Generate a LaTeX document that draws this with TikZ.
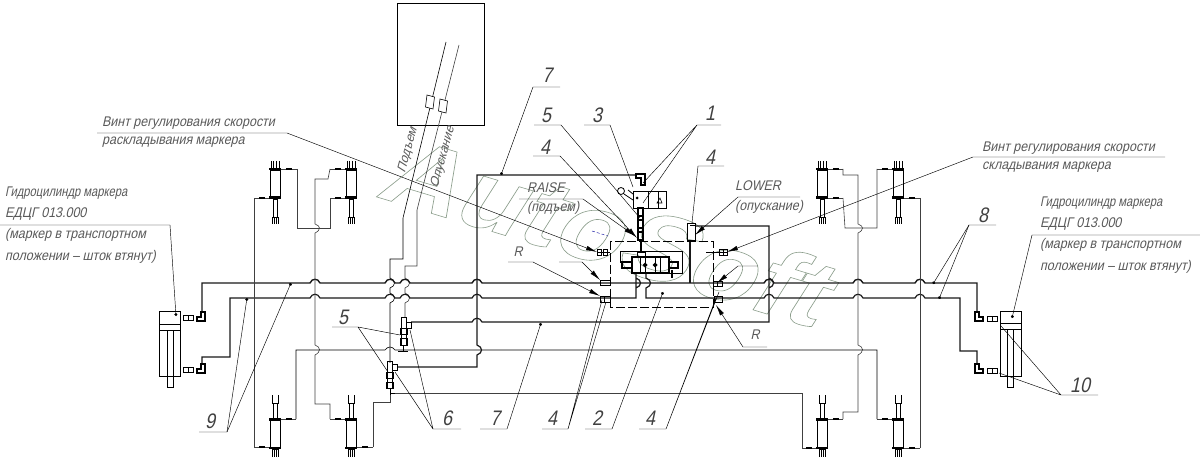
\documentclass[tikz,border=0pt]{standalone}
\usepackage{fontspec}
\setmainfont[FakeSlant=.25]{Liberation Sans}
\usetikzlibrary{arrows.meta}
% jumps over a crossing line
\newcommand{\hb}[2]{-- (#1-5,#2) .. controls (#1-3,#2-5) and (#1+3,#2-5) .. (#1+5,#2)}
\newcommand{\vb}[2]{-- (#1,#2-5) .. controls (#1+6,#2-3) and (#1+6,#2+3) .. (#1,#2+5)}
% small hydraulic cylinders
\newcommand{\upcyl}[1]{
  \draw[part] (#1-4,161)--(#1-4,168)--(#1+4,168)--(#1+4,161);
  \draw[part] (#1-1.5,161)--(#1-1.5,168) (#1+1.5,161)--(#1+1.5,168);
  \draw[part] (#1-5,170) rectangle (#1+5,197);
  \fill (#1-6,168) rectangle (#1+6,170);
  \fill (#1-6,196.5) rectangle (#1+6,199);
  \draw[part] (#1-2,199) rectangle (#1+2,217);
  \draw[part] (#1-3,224)--(#1-3,217)--(#1+3,217)--(#1+3,224);
  \draw[part] (#1-1,217)--(#1-1,224) (#1+1,217)--(#1+1,224);
}
\newcommand{\downcyl}[1]{
  \draw[part] (#1-3,395)--(#1-3,403)--(#1+3,403)--(#1+3,395);
  \draw[part] (#1-2,403) rectangle (#1+2,418);
  \fill (#1-6,418) rectangle (#1+6,420.5);
  \draw[part] (#1-5,420.5) rectangle (#1+5,447);
  \fill (#1-6,447) rectangle (#1+6,449);
  \draw[part] (#1-3,457)--(#1-3,449)--(#1+3,449)--(#1+3,457);
  \draw[part] (#1-1,449)--(#1-1,457) (#1+1,449)--(#1+1,457);
}
% small fitting on a hose, from x1 to x2
\newcommand{\tfit}[3]{
  \draw[hose] (#1,#3)--(#2,#3);
  \fill ({(#1+#2)/2-3},#3-.9) rectangle ({(#1+#2)/2+3},#3+.9);
}
% elbow at a big cylinder
\newcommand{\elbowl}[2]{
  \draw[very thick] (#1+8,#2)--(#1+8,#2+9)--(#1,#2+9)--(#1,#2+5)--(#1+4,#2+5)--(#1+4,#2)--cycle;
}
\newcommand{\elbowr}[2]{
  \draw[very thick] (#1,#2)--(#1,#2+9)--(#1+8,#2+9)--(#1+8,#2+5)--(#1+4,#2+5)--(#1+4,#2)--cycle;
}
\newcommand{\adapt}[2]{
  \draw[thick] (#1,#2) rectangle (#1+5,#2+5);
  \draw[thick] (#1+5,#2) rectangle (#1+10,#2+5);
}
\tikzset{
  hose/.style={line width=.6pt,black!75},
  part/.style={line width=.6pt,black},
  mainln/.style={line width=1.4pt,black!90},
  midln/.style={line width=1.2pt,black!90},
  lead/.style={line width=.45pt,black},
  arr/.style={lead,-{Latex[length=11pt,width=4.5pt]}},
  dot/.style={lead,-{Circle[length=3pt]}},
  txt/.style={anchor=west,inner sep=0pt,text=black!65,xscale=.89,font=\fontsize{14}{14}\selectfont},
  num/.style={inner sep=0pt,text=black!75,font=\fontsize{21}{21}\selectfont,xscale=.85},
}
\begin{document}
\begin{tikzpicture}[x=1pt,y=-1pt]
  \useasboundingbox (0,0) rectangle (1200,462);
  % watermark
  \node (wmark) at (603,229) [rotate=-16.7,inner sep=0pt,xscale=1.13,font=\fontsize{96}{96}\selectfont\bfseries]
    {\special{pdf:code q 1 Tr .6 w .55 .62 .55 RG}AutoSoft\special{pdf:code 0 Tr Q}};
  % remote with its two hoses
  \draw[part] (397,3) rectangle (484,125);
  \draw[part] (446,42)--(403,218)--(403,259)--(390,259)--(390,278) \vb{390}{283} -- (390,293) \vb{390}{298} -- (390,363);
  \draw[hose] (459,45)--(417,210)--(417,266)--(405,266)--(405,278) \vb{405}{283} -- (405,293) \vb{405}{298} -- (405,317);
  \draw[part,fill=white] (430,102) +(-3,-7) -- +(4.5,-5) -- +(3,7) -- +(-4.5,5) -- cycle;
  \draw[part,fill=white] (443,106) +(-3,-7) -- +(4.5,-5) -- +(3,7) -- +(-4.5,5) -- cycle;
  \node (hoseA) at (408,150) [txt,anchor=center,rotate=73,xscale=.9] {Подъем};
  \node (hoseB) at (443,157) [txt,anchor=center,rotate=73,xscale=.9] {Опускание};
  % main hoses to the big cylinders
  \draw[mainln] (202,312)--(202,283) \hb{315}{283} \hb{390}{283} \hb{405}{283} \hb{477}{283}
    \hb{769}{283} \hb{858}{283} \hb{920}{283} -- (977,283)--(977,312);
  \draw[midln] (202,364)--(202,357)--(230,357)--(230,298) \hb{315}{298} \hb{390}{298}
    \hb{405}{298} \hb{477}{298} -- (636,298) -- (636,288) \vb{636}{283} -- (636,273);
  \draw[midln] (646,273)--(646,278) \vb{646}{283} -- (646,298)
    \hb{769}{298} \hb{858}{298} \hb{920}{298} -- (960,298)--(960,351)--(977,351)--(977,364);
  % left big cylinder
  \draw[thick] (159,311) rectangle (180,376);
  \draw[thick] (159,324)--(180,324) (159,330)--(180,330);
  \draw[thick] (167,330) rectangle (173,387);
  \elbowl{197}{312} \elbowl{197}{364}
  \adapt{183}{315} \adapt{183}{367}
  % right big cylinder
  \draw[thick] (1000,311) rectangle (1021,376);
  \draw[thick] (1000,323)--(1021,323) (1000,329)--(1021,329);
  \draw[thick] (1007,329) rectangle (1013,387);
  \elbowr{975}{312} \elbowr{975}{364}
  \adapt{987}{316} \adapt{987}{368}
  % small cylinders
  \upcyl{275} \upcyl{351} \upcyl{822} \upcyl{898}
  \downcyl{275} \downcyl{351} \downcyl{822} \downcyl{898}
  \tfit{281}{297}{169} \tfit{254}{269}{198} \tfit{330}{345}{169} \tfit{330}{345}{198}
  \tfit{281}{296}{419} \tfit{254}{269}{447} \tfit{330}{345}{419} \tfit{357}{373}{447}
  \tfit{828}{843}{169} \tfit{828}{843}{198} \tfit{877}{892}{169} \tfit{904}{920}{198}
  \tfit{828}{843}{419} \tfit{802}{816}{448} \tfit{877}{892}{419} \tfit{904}{920}{448}
  % thin hoses, left
  \draw[hose] (254,198)--(254,447);
  \draw[hose] (297,169)--(297,228)--(330,228)--(330,198);
  \draw[hose] (330,169)--(328,179)--(315,179)--(315,224) .. controls (321,226) and (321,230) .. (315,233)
    --(315,345) .. controls (321,347) and (321,352) .. (315,355) --(315,404)--(330,404)--(330,419);
  \draw[hose] (373,447)--(373,402)--(390,402)--(390,388);
  % thin hoses, right
  \draw[hose] (843,169)--(843,175)--(858,175)--(858,224) .. controls (864,226) and (864,230) .. (858,233)
    --(858,345) .. controls (864,347) and (864,352) .. (858,355) --(858,412)--(843,412)--(843,419);
  \draw[hose] (843,198)--(845,228)--(877,228)--(877,169);
  \draw[hose] (920,198)--(920,448);
  % y=350 and y=393 hoses
  \draw[part] (296,419)--(296,350)--(385,350) .. controls (388,346) and (392,346) .. (395,350)
    --(877,350)--(877,419);
  \draw[hose] (395,393)--(802,393)--(802,448);
  % 7, hoses from the valves to the block
  \draw[midln] (411,322) \hb{477}{322} -- (769,322)--(769,288) \vb{769}{283} -- (769,293)
    (769,288)--(769,226)--(695,226);
  \draw[midln] (397,367)--(477,367)--(477,355) .. controls (483,353) and (483,347) .. (477,345)
    --(477,175)--(636,175);
  \draw[mainln] (690,240)--(690,283);
  % small elbows of the lower block
  \draw[very thick] (636,174)--(645,174)--(645,185)--(641,185)--(641,178)--(636,178)--cycle;
  \draw[thick] (687,223) rectangle (695,240);
  \draw[thick] (690,225)--(695,225);
  % valve 1 and 3, upper block
  \draw[thick] (633,191) rectangle (666,208);
  \draw[thick] (648,191)--(648,208) (658,191)--(658,208);
  \draw[part,thick] (621,191) circle[radius=3.5pt];
  \draw[thick] (624,194)--(633,200) (628,190)--(633,194);
  \fill (637,198) circle[radius=1.5pt];
  \draw[part] (660,198)--(662,203)--(657,203)--cycle;
  \draw[very thick] (638,208) rectangle (643,240);
  \draw[very thick] (638,216) rectangle (643,220) (638,228) rectangle (643,232);
  % distributor
  \draw[very thick] (632,257) rectangle (669,273);
  \draw[thick] (640,257)--(640,273) (645,257)--(645,273) (655,257)--(655,273) (660,257)--(660,273);
  \fill (645,262.5)--(647.5,265)--(645,267.5)--(642.5,265)--cycle;
  \fill (655,262.5)--(657.5,265)--(655,267.5)--(652.5,265)--cycle;
  \draw[very thick] (622,262) rectangle (632,268);
  \draw[very thick] (669,262) rectangle (678,268);
  \draw[thick] (620,263)--(620,251)--(682,251)--(682,273)--(669,273);
  \draw[thick] (637,252) rectangle (645,257);
  \draw[very thick] (641,240)--(641,252);
  \draw[very thick] (672,270)--(672,278);
  \draw[blue!60!black,dash pattern=on 3pt off 2pt] (592,231)--(608,236);
  % dashed contour
  \draw[part,dash pattern=on 9pt off 3pt] (610,241) rectangle (713,307);
  % adjusting screws and tees
  \draw[part] (597,252)--(610,252);
  \draw[thick] (597,249) rectangle (601,255) (603,249) rectangle (607,255);
  \draw[part] (706,252)--(727,252);
  \draw[thick] (719,249) rectangle (723,255) (723,249) rectangle (727,255);
  \draw[thick] (600,280) rectangle (610,285);
  \draw[thick] (600,296) rectangle (604,302) (604,296) rectangle (610,302);
  \draw[thick] (713,281) rectangle (717,286) (717,281) rectangle (722,286);
  \draw[thick] (714,296) rectangle (722,302);
  % valves 6
  \draw[thick] (401,317) rectangle (406,345);
  \draw[thick] (400,328) rectangle (407,334) (400,338) rectangle (407,345);
  \draw[thick] (406,322) rectangle (411,328);
  \draw[part] (403,345)--(403,351) (398,351)--(408,351);
  \draw[thick] (387,361) rectangle (392,388);
  \draw[thick] (386,372) rectangle (393,378) (386,382) rectangle (393,388);
  \draw[thick] (392,364) rectangle (397,370);
  \draw[part] (390,388)--(390,395) (390,393)--(395,393);
  % texts and their leaders
  \node (screwA) at (102,123) [txt] {Винт регулирования скорости};
  \node (screwB) at (102,142) [txt] {раскладывания маркера};
  \draw[arr] (97,133)--(287,133)--(597,252);
  \node (screwC) at (982,148) [txt] {Винт регулирования скорости};
  \node (screwD) at (982,167) [txt] {складывания маркера};
  \draw[arr] (1165,157)--(973,157)--(727,252);
  \node (cylA) at (5,193) [txt,xscale=.9] {Гидроцилиндр маркера};
  \node (cylB) at (5,214) [txt] {ЕДЦГ 013.000};
  \node (cylC) at (5,235) [txt] {(маркер в транспортном};
  \node (cylD) at (5,257) [txt] {положении – шток втянут)};
  \draw[dot] (0,225)--(170,225)--(176,316);
  \node (cylE) at (1040,203) [txt,xscale=.9] {Гидроцилиндр маркера};
  \node (cylF) at (1040,224) [txt] {ЕДЦГ 013.000};
  \node (cylG) at (1040,245) [txt] {(маркер в транспортном};
  \node (cylH) at (1040,267) [txt] {положении – шток втянут)};
  \draw[dot] (1200,235)--(1032,235)--(1012,318);
  \node (raiseA) at (527,188) [txt] {RAISE};
  \node (raiseB) at (527,208) [txt] {(подъем)};
  \draw[arr] (519,199)--(583,199)--(635,236);
  \node (lowerA) at (735,186) [txt] {LOWER};
  \node (lowerB) at (735,207) [txt] {(опускание)};
  \draw[arr] (800,197)--(738,197)--(695,235);
  % numbers
  \node (n7a) at (547,75) [num] {7};
  \draw[dot] (560,87)--(533,87)--(501,175);
  \node (n5a) at (546,115) [num] {5};
  \draw[lead] (534,125)--(561,125)--(640,218);
  \node (n3) at (597,115) [num] {3};
  \draw[lead] (584,125)--(610,125)--(633,187);
  \node (n1) at (710,113) [num] {1};
  \draw[lead] (721,125)--(697,125)--(643,183) (697,125)--(643,203);
  \node (n4a) at (545,147) [num] {4};
  \draw[arr] (533,156)--(560,156)--(637,238);
  \node (n4b) at (710,157) [num] {4};
  \draw[lead] (724,166)--(698,166)--(692,223);
  \node (n8) at (983,215) [num] {8};
  \draw[dot] (996,225)--(969,225)--(933,284);
  \draw[dot] (969,225)--(939,299);
  \node (n10) at (1080,385) [num] {10};
  \draw[lead] (1098,395)--(1061,395)--(1001,326) (1061,395)--(999,373);
  \node (n9) at (210,421) [num] {9};
  \draw[dot] (199,432)--(227,432)--(247,298);
  \draw[dot] (227,432)--(291,283);
  \node (n5b) at (343,317) [num] {5};
  \draw[lead] (332,327)--(358,327)--(400,335) (358,327)--(388,372);
  \node (n6) at (447,418) [num] {6};
  \draw[lead] (461,429)--(433,429)--(410,330) (433,429)--(395,372);
  \node (n7b) at (495,418) [num] {7};
  \draw[dot] (480,429)--(507,429)--(541,323);
  \node (n4c) at (552,418) [num] {4};
  \draw[lead] (542,429)--(568,429)--(602,300) (568,429)--(606,302);
  \node (n2) at (597,418) [num] {2};
  \draw[dot] (585,429)--(612,429)--(663,292);
  \node (n4d) at (650,418) [num] {4};
  \draw[lead] (639,429)--(666,429)--(716,298) (666,429)--(719,292);
  \node (rA) at (518,252) [txt,anchor=center] {R};
  \draw[arr] (508,262)--(533,262)--(600,296);
  \draw[arr] (559,262)--(582,262)--(600,280);
  \node (rB) at (755,335) [txt,anchor=center] {R};
  \draw[arr] (767,347)--(743,347)--(716,305);
  \draw[arr] (758,266)--(738,266)--(717,283);
\end{tikzpicture}
\end{document}
